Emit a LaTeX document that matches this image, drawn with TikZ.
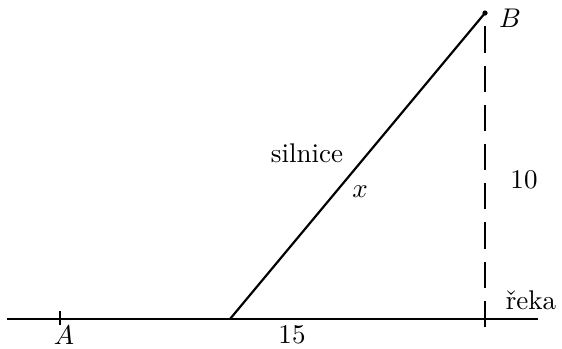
\documentclass[tikz,border=0pt]{standalone}
\usepackage{amsmath,amssymb}
\usepackage{tikz}
\usetikzlibrary{positioning, calc}

\begin{document}
\begin{tikzpicture}[x=0.37pt, y=0.37pt,
    line/.style={line width=0.8pt},
    dropline/.style={line width=0.4pt, dash pattern=on 9.7pt off 4.8pt}]
  \useasboundingbox (0,0) rectangle (562,348);
  % river bank and the points on it
  \coordinate (L) at (7,29);
  \coordinate (R) at (538,29);
  \coordinate (A) at (60,29);
  \coordinate (C) at (230,29);
  \coordinate (B) at (485,335);
  \coordinate (F) at (485,21);
  \draw[line] (L) -- (R);
  \draw[line width=0.5pt] ([yshift=3pt]A) -- ([yshift=-2.2pt]A);
  % road from the bank up to B
  \draw[line] (C) -- (B);
  \fill (B) circle (2.6);
  % distance of B from the river
  \draw[dropline] (F) -- (B);
  % labels
  \node (lA) at (64,13) {$A$};
  \node (lB) at (510,330) {$B$};
  \node (l15) at (292,13) {15};
  \node (l10) at (524,168) {10};
  \node (lreka) at (531,48) {řeka};
  \node (lroad) at (307,195) {silnice};
  \node (lx) at (360,156) {$x$};
\end{tikzpicture}
\end{document}
